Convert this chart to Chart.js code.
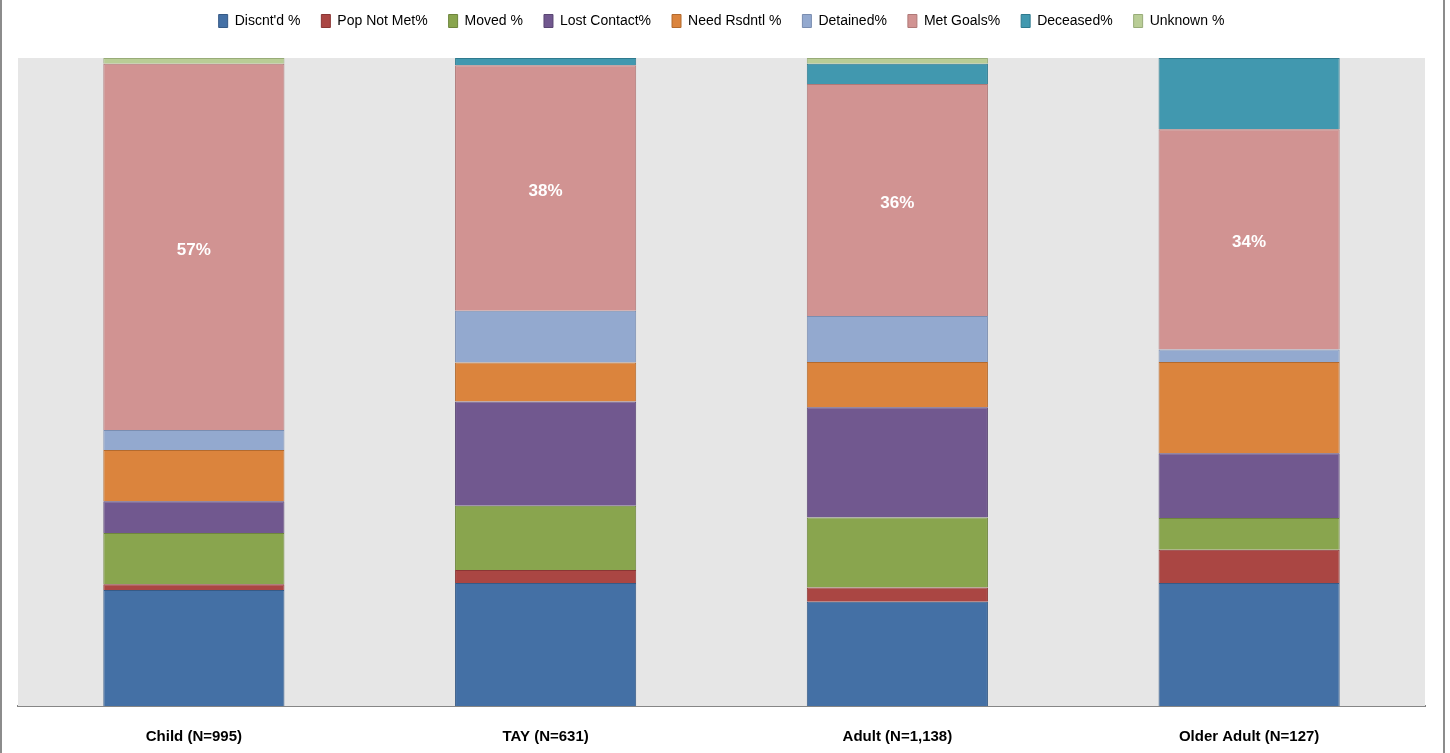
<!DOCTYPE html>
<html>
<head>
<meta charset="utf-8">
<script src="https://cdn.jsdelivr.net/npm/chart.js@4.4.1/dist/chart.umd.min.js"></script>
<style>
  html, body { margin: 0; padding: 0; background: #fff; }
  #wrap {
    position: absolute; left: 0; top: 0;
    width: 1441px; height: 753px;
    border-left: 2px solid #8c8c8c;
    border-right: 2px solid #8c8c8c;
  }
</style>
</head>
<body>
<div id="wrap"><canvas id="chart"></canvas></div>
<script>
const categories = ["Child (N=995)", "TAY (N=631)", "Adult (N=1,138)", "Older Adult (N=127)"];

const discontinued = [17.9, 19.0, 16.1, 19.0];
const popNotMet    = [0.9, 2.0, 2.2, 5.1];
const moved        = [7.9, 9.9, 10.8, 4.9];
const lostContact  = [4.9, 16.1, 17.0, 10.0];
const needRsdntl   = [7.9, 6.0, 7.0, 14.1];
const detained     = [3.1, 8.0, 7.1, 1.9];
const metGoals     = [56.5, 37.9, 35.8, 34.0];
const deceased     = [0.0, 1.1, 3.1, 11.0];
const unknown      = [0.9, 0.0, 0.9, 0.0];

const FONT = "'Liberation Sans Narrow', 'Liberation Sans', Arial, sans-serif";

const series = [
  { label: "Discnt'd %",     data: discontinued, fill: "#4470A5", edge: "#365A86" },
  { label: "Pop Not Met%",   data: popNotMet,    fill: "#AA4643", edge: "#8A3634" },
  { label: "Moved %",        data: moved,        fill: "#89A54E", edge: "#6E853D" },
  { label: "Lost Contact%",  data: lostContact,  fill: "#71588F", edge: "#5A4673" },
  { label: "Need Rsdntl %",  data: needRsdntl,   fill: "#DB843D", edge: "#B36A2E" },
  { label: "Detained%",      data: detained,     fill: "#93A9CF", edge: "#7A8DB0" },
  { label: "Met Goals%",     data: metGoals,     fill: "#D19392", edge: "#AF7877" },
  { label: "Deceased%",      data: deceased,     fill: "#4198AF", edge: "#2F7A8E" },
  { label: "Unknown %",      data: unknown,      fill: "#B9CD96", edge: "#98AC78" }
];

// grey plot background
const plotBackground = {
  id: "plotBackground",
  beforeDatasetsDraw(chart) {
    const { ctx, chartArea: a } = chart;
    ctx.save();
    ctx.fillStyle = "#E6E6E6";
    ctx.fillRect(a.left, a.top, a.right - a.left, a.bottom - a.top);
    ctx.restore();
  }
};

// percentage labels on the Met Goals segments
const metGoalsLabels = {
  id: "metGoalsLabels",
  afterDatasetsDraw(chart) {
    const idx = series.findIndex(s => s.label === "Met Goals%");
    const meta = chart.getDatasetMeta(idx);
    const { ctx } = chart;
    ctx.save();
    ctx.fillStyle = "#fff";
    ctx.font = "bold 17px " + FONT;
    ctx.textAlign = "center";
    ctx.textBaseline = "middle";
    meta.data.forEach((bar, i) => {
      ctx.fillText(Math.round(metGoals[i]) + "%", bar.x, (bar.y + bar.base) / 2 + 3);
    });
    ctx.restore();
  }
};

// fixed legend band height so the plot starts at the right place
const legendHeight = {
  id: "legendHeight",
  beforeInit(chart) {
    const fit = chart.legend.fit;
    chart.legend.fit = function () {
      fit.call(this);
      this.height = 65;
    };
  }
};

new Chart(document.getElementById("chart"), {
  type: "bar",
  data: {
    labels: categories,
    datasets: series.map(s => ({
      label: s.label,
      data: s.data,
      backgroundColor: s.fill,
      borderColor: s.edge,
      borderWidth: 1,
      categoryPercentage: 1,
      barPercentage: 0.515
    }))
  },
  options: {
    animation: false,
    responsive: true,
    maintainAspectRatio: false,
    layout: { padding: { top: -7, left: 16, right: 18, bottom: 0 } },
    scales: {
      x: {
        stacked: true,
        grid: { display: false, drawTicks: false },
        border: { display: true, color: "#868686", width: 2 },
        afterFit(scale) { scale.height = 47; },
        ticks: {
          padding: 22,
          color: "#000",
          font: { family: FONT, size: 15, weight: "bold" }
        }
      },
      y: {
        stacked: true,
        min: 0,
        max: 100,
        display: false
      }
    },
    plugins: {
      legend: {
        position: "top",
        labels: {
          boxWidth: 9,
          boxHeight: 13,
          padding: 21,
          color: "#000",
          font: { family: FONT, size: 14 }
        }
      },
      tooltip: { enabled: false }
    }
  },
  plugins: [plotBackground, metGoalsLabels, legendHeight]
});
</script>
</body>
</html>
